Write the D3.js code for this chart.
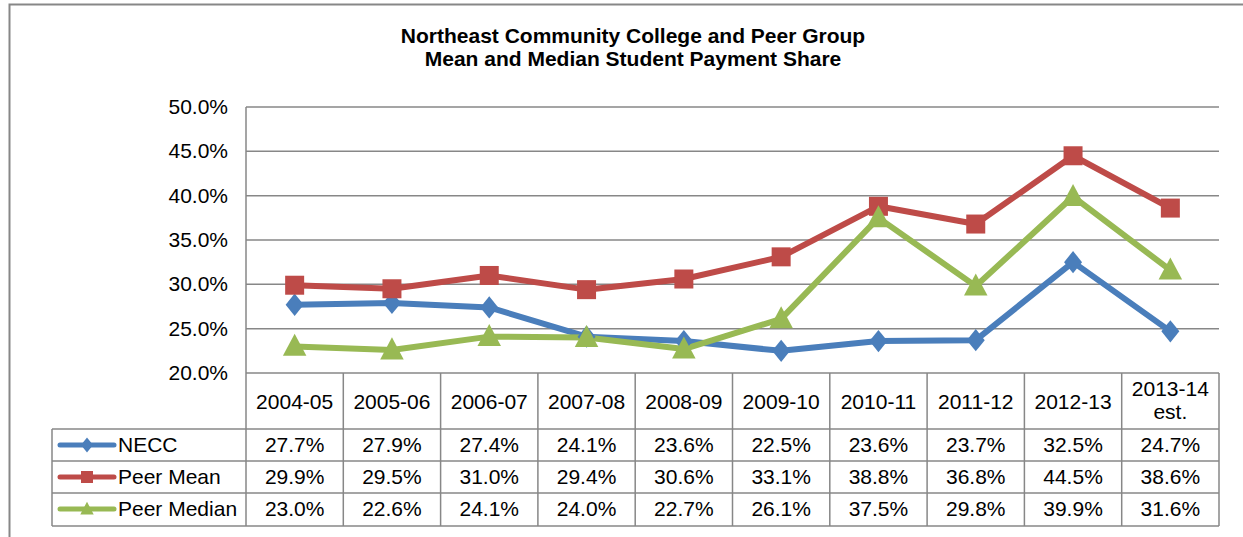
<!DOCTYPE html>
<html><head><meta charset="utf-8">
<script src="https://cdn.jsdelivr.net/npm/d3@7"></script>
<style>body{margin:0;background:#fff}svg{display:block;font-family:"Liberation Sans",Arial,sans-serif}</style>
</head><body>
<svg id="c" width="1243" height="537"></svg>
<script>
const categories = ["2004-05","2005-06","2006-07","2007-08","2008-09","2009-10","2010-11","2011-12","2012-13","2013-14 est."];
const seriesNames = ["NECC","Peer Mean","Peer Median"];
const necc = [27.7,27.9,27.4,24.1,23.6,22.5,23.6,23.7,32.5,24.7];
const peerMean = [29.9,29.5,31.0,29.4,30.6,33.1,38.8,36.8,44.5,38.6];
const peerMedian = [23.0,22.6,24.1,24.0,22.7,26.1,37.5,29.8,39.9,31.6];
const yTicks = [20,25,30,35,40,45,50];
const colors = ["#4a7ebb","#be4b48","#98b954"];
const markers = ["diamond","square","triangle"];
const series = [necc, peerMean, peerMedian];

const svg = d3.select("#c");
const L = 246, R = 1219, T = 107, B = 373;
const x = d3.scaleBand().domain(categories).range([L, R]);
const y = d3.scaleLinear().domain([20, 50]).range([B, T]);
const grid = "#878787";
const fs = 21;

// outer border
svg.append("rect").attr("x",9.5).attr("y",4.5).attr("width",1260).attr("height",600)
  .attr("fill","none").attr("stroke",grid).attr("stroke-width",2);

// title
const title = svg.append("text").attr("text-anchor","middle").attr("font-weight","bold").attr("font-size",21).attr("fill","#000");
title.append("tspan").attr("x",633).attr("y",43).text("Northeast Community College and Peer Group");
title.append("tspan").attr("x",633).attr("y",66).text("Mean and Median Student Payment Share");

// gridlines
svg.append("g").selectAll("line").data(yTicks).join("line")
  .attr("x1",L).attr("x2",R).attr("y1",d=>y(d)).attr("y2",d=>y(d))
  .attr("stroke",grid).attr("stroke-width",1.5);
svg.append("line").attr("x1",L).attr("x2",L).attr("y1",T).attr("y2",B).attr("stroke",grid).attr("stroke-width",1.5);

// y axis labels
svg.append("g").selectAll("text").data(yTicks).join("text")
  .attr("x",228).attr("y",d=>y(d)+7).attr("text-anchor","end").attr("font-size",fs)
  .text(d=>d.toFixed(1)+"%");

// table
const tbl = svg.append("g").attr("stroke",grid).attr("stroke-width",1.5);
[429,461,493,526].forEach(yy=>{
  tbl.append("line").attr("x1",52).attr("x2",R).attr("y1",yy).attr("y2",yy);
});
tbl.append("line").attr("x1",52).attr("x2",52).attr("y1",429).attr("y2",526);
const bounds = categories.map(c=>x(c)).concat([R]);
tbl.selectAll("line.v").data(bounds).join("line").attr("class","v")
  .attr("x1",d=>d).attr("x2",d=>d).attr("y1",B).attr("y2",526);

// header labels
const hdr = svg.append("g").attr("font-size",fs).attr("text-anchor","middle");
categories.forEach(c=>{
  const cx = x(c)+x.bandwidth()/2;
  const parts = c.split(" ");
  if(parts.length===1){
    hdr.append("text").attr("x",cx).attr("y",409).text(c);
  } else {
    hdr.append("text").attr("x",cx).attr("y",396).text(parts[0]);
    hdr.append("text").attr("x",cx).attr("y",419).text(parts[1]);
  }
});

function markerPath(type, s){
  if(type==="diamond") return `M0,${-s*0.62}L${s*0.5},0L0,${s*0.62}L${-s*0.5},0Z`;
  if(type==="square") return `M${-s/2},${-s/2}h${s}v${s}h${-s}Z`;
  return `M0,${-s*0.6}L${s*0.56},${s*0.45}L${-s*0.56},${s*0.45}Z`;
}

// data rows
const rowBase = [452, 484, 516];
const rowMid = [445, 477, 509];
series.forEach((vals,i)=>{
  const g = svg.append("g");
  g.selectAll("text").data(vals).join("text")
    .attr("x",(d,j)=>x(categories[j])+x.bandwidth()/2).attr("y",rowBase[i])
    .attr("text-anchor","middle").attr("font-size",fs).text(d=>d.toFixed(1)+"%");
  // legend key
  g.append("line").attr("x1",60).attr("x2",114).attr("y1",rowMid[i]).attr("y2",rowMid[i])
    .attr("stroke",colors[i]).attr("stroke-width",5).attr("stroke-linecap","round");
  g.append("path").attr("d",markerPath(markers[i],12)).attr("transform",`translate(87,${rowMid[i]})`).attr("fill",colors[i]);
  g.append("text").attr("x",118).attr("y",rowBase[i]).attr("font-size",fs).text(seriesNames[i]);
});

// lines
const line = d3.line().x((d,j)=>x(categories[j])+x.bandwidth()/2).y(d=>y(d));
series.forEach((vals,i)=>{
  svg.append("path").datum(vals).attr("d",line).attr("fill","none")
    .attr("stroke",colors[i]).attr("stroke-width",6).attr("stroke-linejoin","round");
});
series.forEach((vals,i)=>{
  svg.append("g").selectAll("path").data(vals).join("path")
    .attr("d",markerPath(markers[i], markers[i]==="square"?19:(markers[i]==="diamond"?18:21)))
    .attr("transform",(d,j)=>`translate(${x(categories[j])+x.bandwidth()/2},${y(d)})`)
    .attr("fill",colors[i]);
});
</script>
</body></html>
